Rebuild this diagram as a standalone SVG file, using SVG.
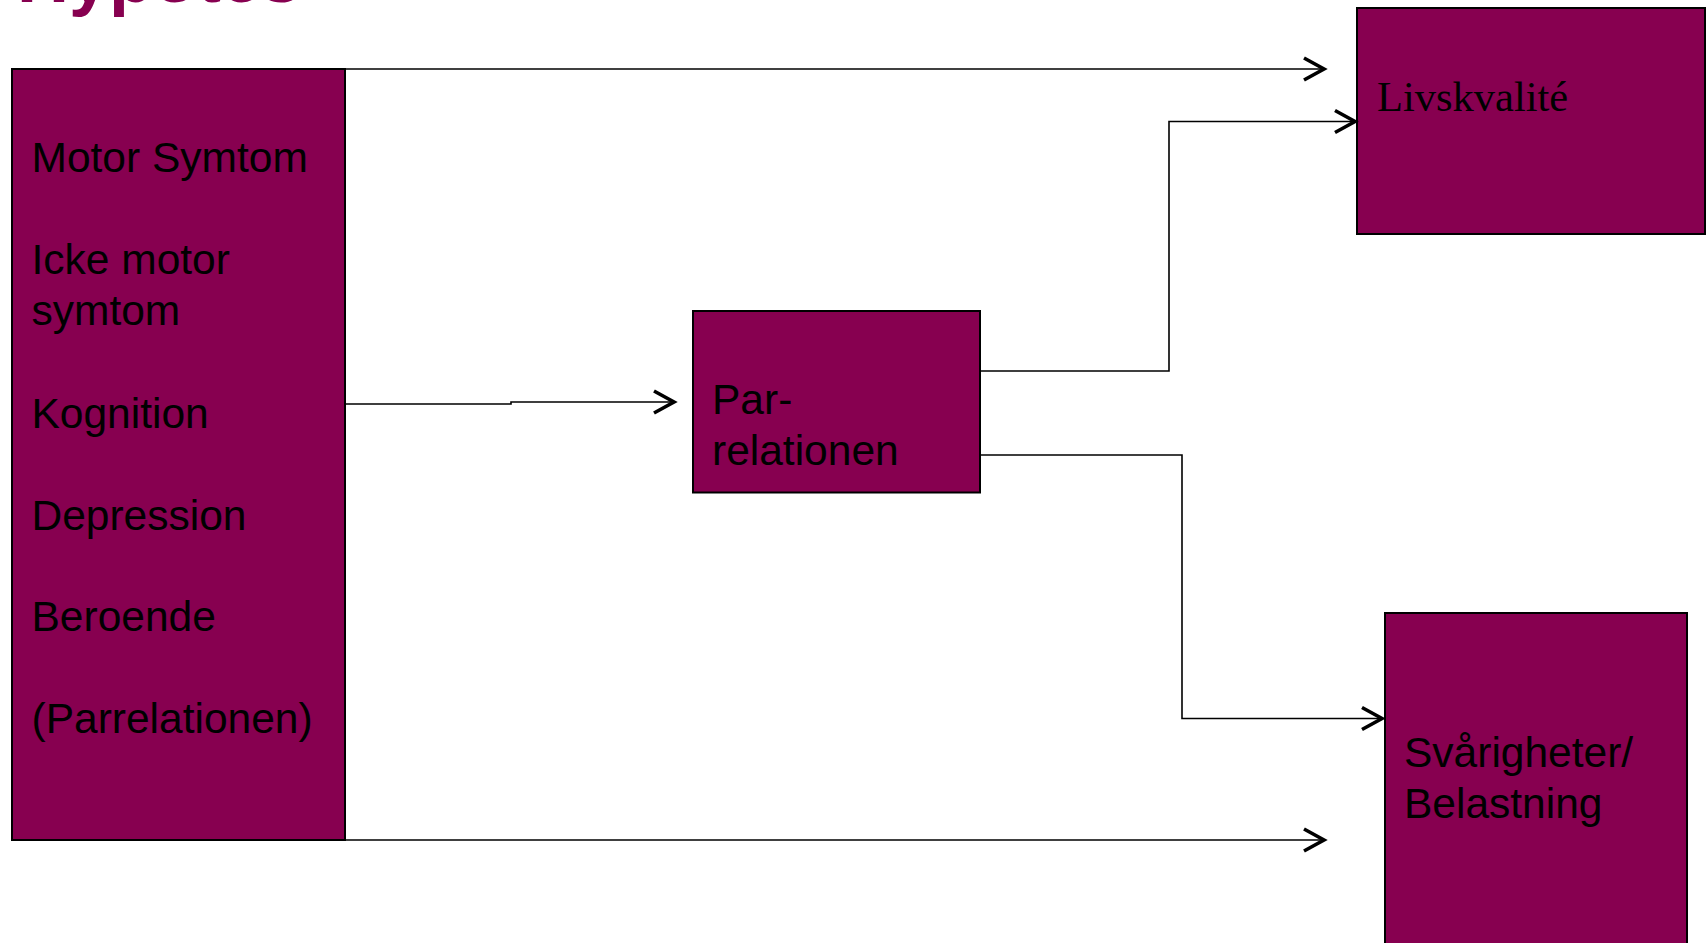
<svg xmlns="http://www.w3.org/2000/svg" width="1708" height="943" viewBox="0 0 1708 943">
<style>
.box{fill:#870050;stroke:#000;stroke-width:2}
.lbl{font-family:"Liberation Sans",Arial,sans-serif;font-size:42.5px;fill:#000}
.ser{font-family:"Liberation Serif","Times New Roman",serif;font-size:42.5px;fill:#000}
.con{fill:none;stroke:#000;stroke-width:1.6}
.title{font-family:"Liberation Sans",Arial,sans-serif;font-size:72px;font-weight:bold;fill:#870050}
</style>
<defs>
<marker id="arr" markerUnits="userSpaceOnUse" markerWidth="32" markerHeight="32" viewBox="-26 -16 32 32" refX="0" refY="0" orient="auto">
<path d="M-20,-11 L0,0 L-20,11" fill="none" stroke="#000" stroke-width="3.6"/>
</marker>
</defs>
<rect width="1708" height="943" fill="#fff"/>
<text class="title" x="17" y="2">Hypotes</text>
<g id="node-factors">
<rect class="box" x="12" y="69" width="333" height="771"/>
<text class="lbl" x="31.5" y="172">Motor Symtom</text>
<text class="lbl" x="31.5" y="274">Icke motor</text>
<text class="lbl" x="31.5" y="325">symtom</text>
<text class="lbl" x="31.5" y="428">Kognition</text>
<text class="lbl" x="31.5" y="530">Depression</text>
<text class="lbl" x="31.5" y="631">Beroende</text>
<text class="lbl" x="31.5" y="733">(Parrelationen)</text>
</g>
<g id="node-par">
<rect class="box" x="693" y="311" width="287" height="181.5"/>
<text class="lbl" x="712" y="413.5">Par-</text>
<text class="lbl" x="712" y="464.5">relationen</text>
</g>
<g id="node-livs">
<rect class="box" x="1357" y="8" width="348" height="226"/>
<text class="ser" x="1377" y="110.5">Livskvalité</text>
</g>
<g id="node-svar">
<rect class="box" x="1385" y="613" width="302" height="340"/>
<text class="lbl" x="1404" y="767">Svårigheter/</text>
<text class="lbl" x="1404" y="818">Belastning</text>
</g>
<g id="connectors">
<path class="con" d="M240,69 H1324" marker-end="url(#arr)"/>
<path class="con" d="M240,840 H1324" marker-end="url(#arr)"/>
<path class="con" d="M345,404 H511 V402 H674" marker-end="url(#arr)"/>
<path class="con" d="M980,371 H1169 V121.5 H1355" marker-end="url(#arr)"/>
<path class="con" d="M980,455 H1182 V718.5 H1382" marker-end="url(#arr)"/>
</g>
</svg>
